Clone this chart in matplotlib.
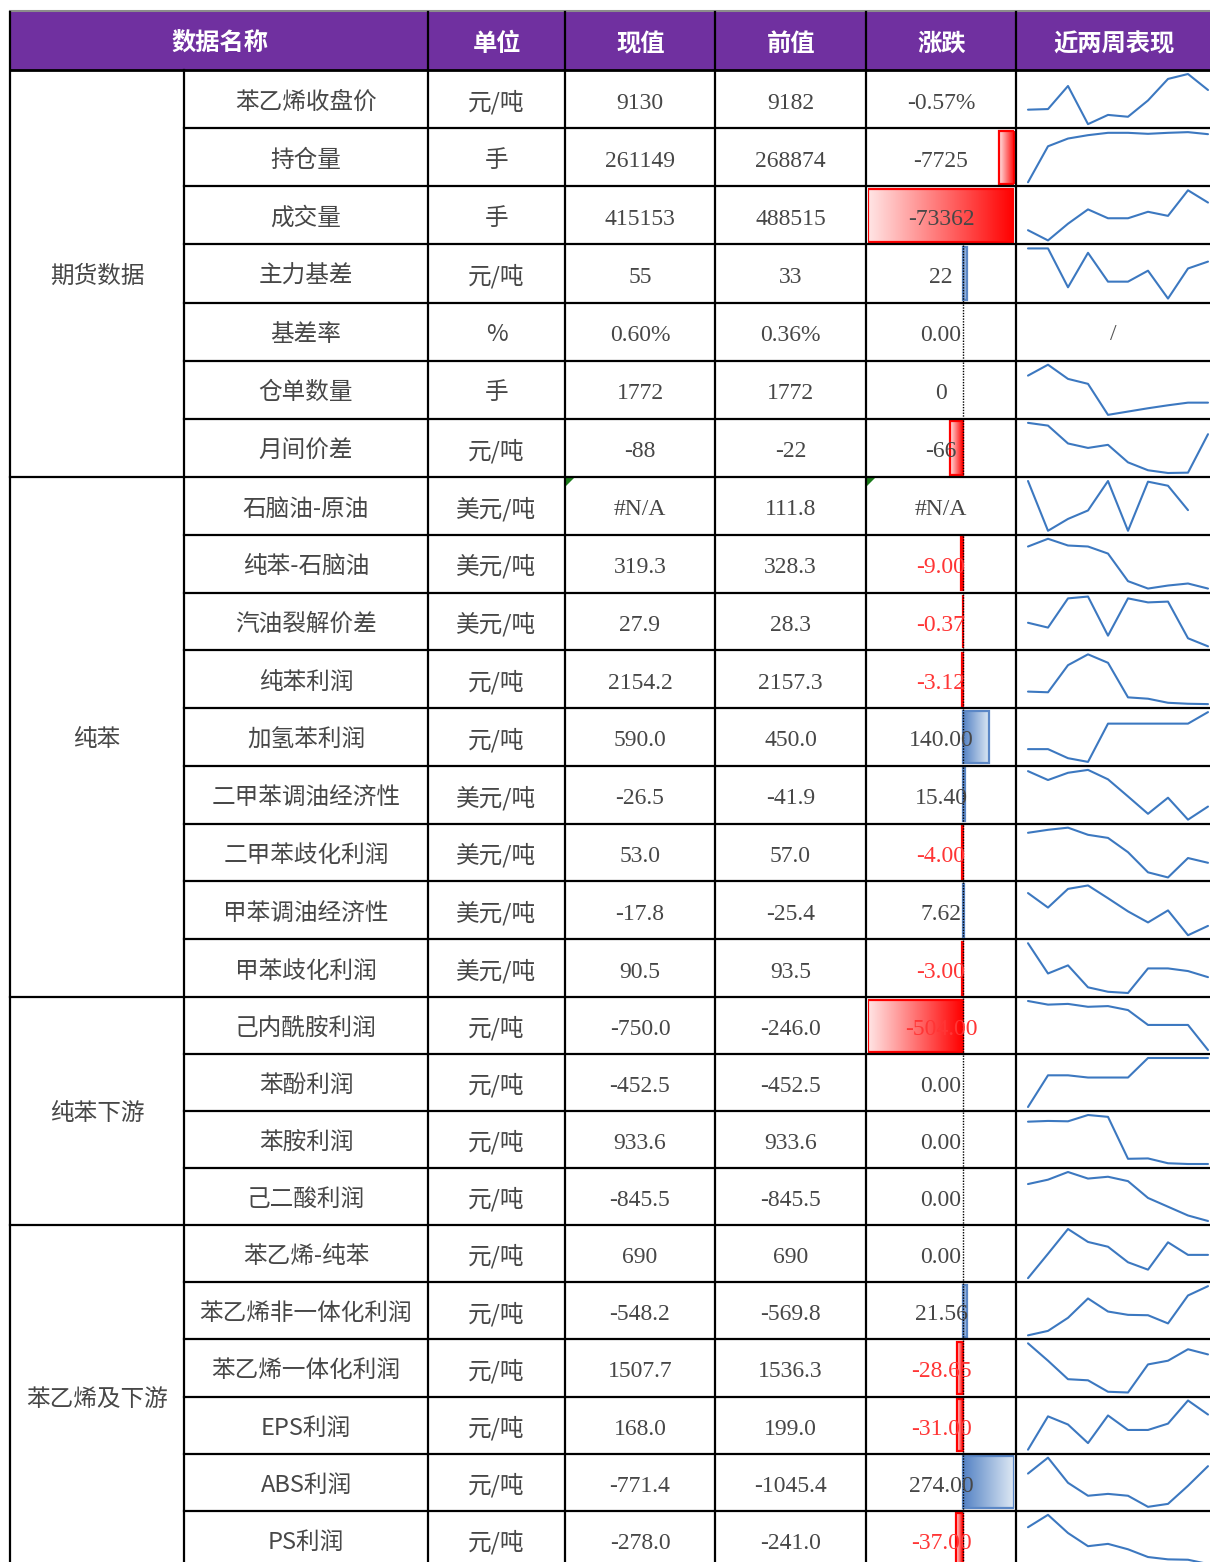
import numpy as np
import matplotlib
matplotlib.use('Agg')
import matplotlib.pyplot as plt
from matplotlib.patches import Rectangle, Polygon

plt.rcParams['font.family'] = ['Noto Sans CJK SC', 'DejaVu Sans']

# ---- data ----
groups = ['期货数据', '纯苯', '纯苯下游', '苯乙烯及下游']
group_sizes = [7, 9, 4, 6]

headers = ['数据名称', '单位', '现值', '前值', '涨跌', '近两周表现']

names = ['苯乙烯收盘价', '持仓量', '成交量', '主力基差', '基差率', '仓单数量', '月间价差',
         '石脑油-原油', '纯苯-石脑油', '汽油裂解价差', '纯苯利润', '加氢苯利润',
         '二甲苯调油经济性', '二甲苯歧化利润', '甲苯调油经济性', '甲苯歧化利润',
         '己内酰胺利润', '苯酚利润', '苯胺利润', '己二酸利润',
         '苯乙烯-纯苯', '苯乙烯非一体化利润', '苯乙烯一体化利润', 'EPS利润', 'ABS利润', 'PS利润']
units = ['元/吨', '手', '手', '元/吨', '%', '手', '元/吨',
         '美元/吨', '美元/吨', '美元/吨', '元/吨', '元/吨', '美元/吨', '美元/吨', '美元/吨', '美元/吨',
         '元/吨', '元/吨', '元/吨', '元/吨',
         '元/吨', '元/吨', '元/吨', '元/吨', '元/吨', '元/吨']
cur = ['9130', '261149', '415153', '55', '0.60%', '1772', '-88',
       '#N/A', '319.3', '27.9', '2154.2', '590.0', '-26.5', '53.0', '-17.8', '90.5',
       '-750.0', '-452.5', '933.6', '-845.5',
       '690', '-548.2', '1507.7', '168.0', '-771.4', '-278.0']
prev = ['9182', '268874', '488515', '33', '0.36%', '1772', '-22',
        '111.8', '328.3', '28.3', '2157.3', '450.0', '-41.9', '57.0', '-25.4', '93.5',
        '-246.0', '-452.5', '933.6', '-845.5',
        '690', '-569.8', '1536.3', '199.0', '-1045.4', '-241.0']
chg_text = ['-0.57%', '-7725', '-73362', '22', '0.00', '0', '-66',
            '#N/A', '-9.00', '-0.37', '-3.12', '140.00', '15.40', '-4.00', '7.62', '-3.00',
            '-504.00', '0.00', '0.00', '0.00',
            '0.00', '21.56', '-28.65', '-31.00', '274.00', '-37.00']
# data bar values; None = no bar in that cell
chg_volume = [None, -7725, -73362]
chg_rest = [22, 0.0, 0, -66,
            None, -9.00, -0.37, -3.12, 140.00, 15.40, -4.00, 7.62, -3.00,
            -504.00, 0.00, 0.00, 0.00,
            0.00, 21.56, -28.65, -31.00, 274.00, -37.00]

nan = np.nan
spark = [
    [9066, 9068, 9143, 9019, 9049, 9043, 9096, 9166, 9182, 9130],
    [77108, 214817, 244418, 257288, 266297, 266297, 262436, 266297, 268874, 261149],
    [250075, 188935, 288797, 374393, 321405, 321405, 360127, 335671, 488515, 415153],
    [97, 97, -27, 83, -9, -9, 26, -63, 33, 55],
    None,
    [3412, 4072, 3212, 2912, 1032, 1232, 1432, 1612, 1772, 1772],
    [26, 18, -34, -47, -38, -89, -112, -120, -119, -7],
    [154.8, 81.3, 98.8, 111.3, 154.8, 81.3, 153.8, 147.8, 111.8, nan],
    [394.3, 408.1, 396.1, 394.3, 381.7, 332.5, 319.3, 324.7, 328.3, 319.3],
    [29.07, 28.83, 30.28, 30.37, 28.43, 30.28, 30.08, 30.12, 28.3, 27.9],
    [2265, 2259, 2499, 2595, 2520, 2214, 2202, 2166, 2157.3, 2154.2],
    [140, 140, 30, -15, 450, 450, 450, 450, 450, 590],
    [15.1, 4.7, 13.2, 16.6, 5.5, -14.6, -35.0, -16.1, -41.9, -26.5],
    [78.2, 80.7, 82.5, 76.5, 73.9, 61.9, 45.0, 40.7, 57.0, 53.0],
    [8.9, -2.9, 12.3, 15.1, 4.7, -6.0, -15.0, -5.2, -25.4, -17.8],
    [107.2, 92.3, 96.3, 85.5, 83.3, 82.7, 94.8, 94.8, 93.5, 90.5],
    [235.5, 162.5, 177, 119, 133, 53, -246, -246, -246, -750],
    [-1117.5, -687.5, -687.5, -717.5, -717.5, -717.5, -452.5, -452.5, -452.5, -452.5],
    [2073.6, 2093.6, 2083.6, 2253.6, 2203.6, 1073.6, 1083.6, 953.6, 933.6, 933.6],
    [-340, -280, -175, -265, -240, -300, -530, -650, -770, -845.5],
    [375, 705, 1040, 865, 800, 590, 490, 860, 690, 690],
    [-662.2, -651.9, -621.6, -576.7, -607.0, -614.7, -615.6, -634.6, -569.8, -548.2],
    [1568.9, 1473.0, 1371.0, 1364.9, 1301.7, 1297.6, 1452.6, 1473.0, 1536.3, 1507.7],
    [90.5, 164, 146, 105, 166, 134, 134, 148, 199, 168],
    [-874.8, -652.5, -1004, -1185, -1159, -1185, -1340, -1298.7, -1045.4, -771.4],
    [41, 148.7, -9.2, -123.4, -103.3, -150.3, -217.5, -237.7, -241, -278],
]

# ---- layout ----
W, H = 1210, 1562
col_x = [10, 184, 428, 565, 715, 866, 1016, 1210]
head_top, head_bot = 12, 70
group_edges = [70, 477, 997, 1225, 1568]

row_edges = []
for g, n in enumerate(group_sizes):
    e = np.linspace(group_edges[g], group_edges[g + 1], n + 1)
    row_edges.extend(e[:-1])
row_edges.append(group_edges[-1])
row_edges = np.array(row_edges)
row_mid = (row_edges[:-1] + row_edges[1:]) / 2
row_h = np.diff(row_edges)

txt_col = '#474747'
red_txt = '#FF3535'
line_col = '#000000'
purple = '#7030A0'
spark_col = '#3C78C0'
num_font = ['Liberation Serif', 'DejaVu Serif']
fs = 17
dy = 3  # text baseline nudge

fig = plt.figure(figsize=(W / 100, H / 100), dpi=100)
ax = fig.add_axes([0, 0, 1, 1])
ax.set_zorder(3)
ax.set_xlim(0, W)
ax.set_ylim(H, 0)
ax.axis('off')

# header
ax.add_patch(Rectangle((col_x[0], head_top), W - col_x[0], head_bot - head_top,
                       facecolor=purple, edgecolor='none'))
ax.plot([col_x[0], W], [head_top - 1, head_top - 1], color='#8C8C8C', lw=1.5)
head_x = [(col_x[0] + col_x[2]) / 2] + [(col_x[i] + col_x[i + 1]) / 2 for i in range(2, 7)]
for hx, h in zip(head_x, headers):
    ax.text(hx + 1, (head_top + head_bot) / 2 + dy, h, color='white', fontsize=17.5,
            fontweight='bold', ha='center', va='center')

# grid lines
lw = 1.6
for x in col_x[2:7]:
    ax.plot([x, x], [head_top, H + 10], color=line_col, lw=lw)
ax.plot([col_x[0], col_x[0]], [head_top, H + 10], color=line_col, lw=lw)
ax.plot([col_x[1], col_x[1]], [head_bot, H + 10], color=line_col, lw=lw)
ax.plot([col_x[0], W], [head_bot, head_bot], color=line_col, lw=lw + 0.4)
for y in row_edges[1:]:
    x0 = col_x[0] if np.any(np.isclose(y, group_edges)) else col_x[1]
    ax.plot([x0, W], [y, y], color=line_col, lw=lw)

# group labels
for g, name in enumerate(groups):
    ax.text((col_x[0] + col_x[1]) / 2, (group_edges[g] + group_edges[g + 1]) / 2 + dy, name,
            color=txt_col, fontsize=fs, ha='center', va='center')

# cells
cx = [(col_x[i] + col_x[i + 1]) / 2 for i in range(len(col_x) - 1)]
for i in range(len(names)):
    y = row_mid[i] + dy
    ax.text(cx[1], y, names[i], color=txt_col, fontsize=fs, ha='center', va='center')
    ax.text(cx[2], y, units[i], color=txt_col, fontsize=fs, ha='center', va='center')
    ax.text(cx[3], y + 1, cur[i], color=txt_col, fontsize=fs, ha='center', va='center',
            family=num_font)
    ax.text(cx[4], y + 1, prev[i], color=txt_col, fontsize=fs, ha='center', va='center',
            family=num_font)
    neg = chg_text[i].startswith('-')
    c = red_txt if (neg and i >= 7) else txt_col
    ax.text(cx[5], y + 1, chg_text[i], color=c, fontsize=fs, ha='center', va='center',
            family=num_font, zorder=5)
    if spark[i] is None:
        ax.text(cx[6], y, '/', color='#555555', fontsize=fs, ha='center', va='center',
                family=num_font)

# Excel error indicators
for x in (col_x[3], col_x[5]):
    y0 = row_edges[7]
    ax.add_patch(Polygon([[x + 1, y0 + 1], [x + 9, y0 + 1], [x + 1, y0 + 9]],
                         closed=True, facecolor='#1A7A1A', edgecolor='none'))


# ---- data bars ----
def gradient_bars(bax, rows, vals):
    for r, v in zip(rows, vals):
        if v is None or v == 0:
            continue
        h = row_h[r] - 5
        if v < 0:
            solid, light, edge = np.array([1.0, 0.0, 0.0]), np.array([1.0, 0.9, 0.9]), '#FF0000'
            cols = np.linspace(light, solid, 256)
        else:
            solid, light, edge = np.array([0.33, 0.51, 0.77]), np.array([0.88, 0.92, 0.96]), '#5B87C6'
            cols = np.linspace(solid, light, 256)
        bar = bax.barh(row_mid[r], v, height=h, left=0, color='none',
                       edgecolor=edge, linewidth=1.6, zorder=3)[0]
        xl, xr = min(0, v), max(0, v)
        im = bax.imshow(cols[None, :, :], extent=(xl, xr, row_mid[r] + h / 2, row_mid[r] - h / 2),
                        aspect='auto', zorder=2, interpolation='bilinear')
        im.set_clip_path(bar)


bx0, bw = 868, 146
bax1 = fig.add_axes([bx0 / W, 0, bw / W, 1])
bax1.set_zorder(1)
rows1 = [0, 1, 2]
gradient_bars(bax1, rows1, chg_volume)
bax1.set_xlim(min(v for v in chg_volume if v is not None), 0)
bax1.set_ylim(H, 0)
bax1.axis('off')

bax2 = fig.add_axes([bx0 / W, 0, bw / W, 1])
bax2.set_zorder(2)
rows2 = list(range(3, 26))
gradient_bars(bax2, rows2, chg_rest)
vmin = min(v for v in chg_rest if v is not None)
vmax = max(v for v in chg_rest if v is not None)
bax2.set_xlim(vmin, vmax)
bax2.set_ylim(H, 0)
bax2.axis('off')
for r, v in zip(rows2, chg_rest):
    if v is None:
        continue
    bax2.plot([0, 0], [row_edges[r] + 1, row_edges[r + 1] - 1], color='black', lw=1.0,
              linestyle=(0, (1, 1)), zorder=4)

# ---- sparklines ----
for i, vals in enumerate(spark):
    if vals is None:
        continue
    top = row_edges[i] + 4
    bot = row_edges[i + 1] - 4
    sax = fig.add_axes([1028 / W, 1 - bot / H, 180 / W, (bot - top) / H])
    sax.set_zorder(4)
    v = np.array(vals, dtype=float)
    sax.plot(np.arange(len(v)), v, color=spark_col, lw=1.5, clip_on=False,
             solid_joinstyle='round', solid_capstyle='round')
    sax.set_xlim(0, len(v) - 1)
    sax.set_ylim(np.nanmin(v), np.nanmax(v))
    sax.axis('off')

fig.savefig('out.png', dpi=100)
